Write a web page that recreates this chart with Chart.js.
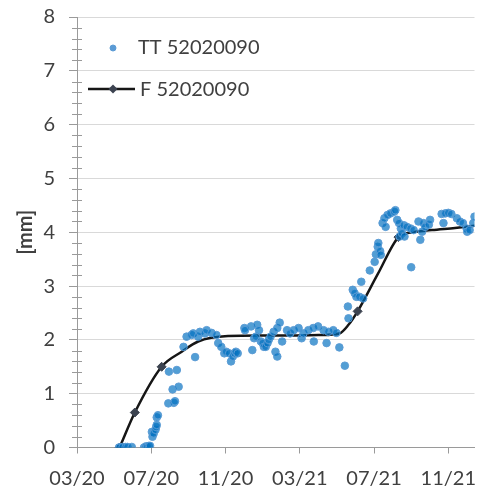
<!DOCTYPE html>
<html>
<head>
<meta charset="utf-8">
<script src="https://cdn.jsdelivr.net/npm/chart.js@4.4.0/dist/chart.umd.min.js"></script>
<style>
  html, body { margin: 0; padding: 0; background: #fff; overflow: hidden; }
  #wrap { width: 480px; height: 491px; position: relative; }
</style>
</head>
<body>
<div id="wrap"><canvas id="chart"></canvas></div>
<script>
// x values are days counted from 03/20 (1 March 2020)
const tickDays = [0, 122, 244, 366, 488, 610];
const tickLabels = ['03/20', '07/20', '11/20', '03/21', '07/21', '11/21'];

const ttDays = [
    69, 70, 75, 80, 83, 90, 110, 113, 115, 118,
    120, 123, 124, 126, 129, 130, 131, 131, 133, 150,
    159, 161, 157, 167, 151, 164, 175, 180, 188, 191,
    194, 199, 202, 210, 213, 221, 229, 232, 237, 242,
    245, 250, 253, 256, 259, 261, 264, 275, 276, 286,
    288, 291, 294, 296, 299, 302, 305, 307, 310, 313,
    315, 318, 323, 326, 329, 329, 333, 337, 345, 350,
    356, 364, 369, 372, 380, 388, 389, 396, 405, 410,
    413, 421, 426, 431, 440, 445, 446, 453, 456, 459,
    464, 470, 467, 481, 489, 491, 494, 495, 498, 499,
    502, 505, 507, 510, 515, 521, 523, 526, 529, 530,
    532, 534, 537, 538, 542, 548, 549, 553, 561, 564,
    567, 569, 572, 578, 580, 599, 602, 605, 610, 615,
    624, 629, 634, 640, 641, 645, 651, 653
];
const ttValues = [
    0, 0, 0.01, 0.01, 0.01, 0.01, 0, 0.02, 0.01, 0.03,
    0.03, 0.29, 0.2, 0.26, 0.33, 0.38, 0.42, 0.56, 0.6, 0.82,
    0.83, 0.86, 1.08, 1.13, 1.41, 1.44, 1.87, 2.06, 2.09, 2.12,
    1.68, 2.06, 2.15, 2.12, 2.18, 2.13, 2.09, 1.94, 1.87, 1.75,
    1.78, 1.75, 1.6, 1.69, 1.75, 1.78, 1.75, 2.22, 2.18, 2.25,
    1.81, 2.03, 2.06, 2.28, 2.18, 1.97, 1.94, 1.87, 1.87, 1.94,
    2.0, 2.06, 2.15, 1.78, 1.69, 2.22, 2.32, 1.97, 2.18, 2.12,
    2.18, 2.22, 2.03, 2.12, 2.18, 2.22, 1.97, 2.25, 2.18, 1.94,
    2.15, 2.18, 2.13, 1.86, 1.52, 2.62, 2.4, 2.93, 2.87, 2.8,
    2.8, 2.77, 3.08, 3.29, 3.45, 3.59, 3.73, 3.8, 3.65, 3.58,
    4.17, 4.26, 4.1, 4.32, 4.35, 4.38, 4.41, 4.23, 4.17, 3.92,
    4.07, 3.98, 4.13, 3.92, 4.1, 4.07, 3.35, 4.04, 4.2, 3.86,
    4.01, 4.17, 4.1, 4.14, 4.23, 4.34, 4.17, 4.35, 4.36, 4.34,
    4.26, 4.2, 4.17, 4.07, 4.01, 4.04, 4.17, 4.29
];

const fDays = [70, 95, 139, 172, 199, 248, 300, 350, 400, 431, 446, 461, 494, 528, 545, 583, 621, 653];
const fValues = [0, 0.65, 1.5, 1.78, 1.97, 2.07, 2.08, 2.08, 2.09, 2.12, 2.28, 2.53, 3.22, 3.91, 3.99, 4.04, 4.08, 4.12];
// markers that show in the picture (the rest sit under the scatter)
const fMarkerRadius = [4.5, 4.5, 4.5, 0, 0, 0, 0, 0, 0, 0, 0, 4.5, 0, 4.5, 0, 0, 0, 0];

const FONT = 'Lato';
const TEXT = '#404040';
const AXIS = '#9a9a9a';

const ttData = ttDays.map((d, i) => ({ x: d, y: ttValues[i] }));
const fData = fDays.map((d, i) => ({ x: d, y: fValues[i] }));

// little crossing ticks every 0.2 on the y axis
const minorTicks = {
    id: 'minorTicks',
    afterDraw(chart) {
        const y = chart.scales.y;
        const left = chart.chartArea.left;
        const ctx = chart.ctx;
        ctx.save();
        ctx.strokeStyle = AXIS;
        ctx.lineWidth = 1;
        for (let v = y.min; v <= y.max + 1e-6; v += 0.2) {
            if (Math.abs(v - Math.round(v)) < 1e-6) continue;
            const py = Math.round(y.getPixelForValue(v)) + 0.5;
            ctx.beginPath();
            ctx.moveTo(left - 5, py);
            ctx.lineTo(left + 5, py);
            ctx.stroke();
        }
        ctx.restore();
    }
};

// legend drawn inside the plot, top-left
const insideLegend = {
    id: 'insideLegend',
    afterDraw(chart) {
        const ctx = chart.ctx;
        const a = chart.chartArea;
        const tt = chart.data.datasets[0];
        const f = chart.data.datasets[1];
        ctx.save();
        ctx.font = '20px ' + FONT;
        ctx.textBaseline = 'middle';

        const cx = a.left + 36;
        const y1 = a.top + 31;
        ctx.beginPath();
        ctx.arc(cx, y1, 3, 0, Math.PI * 2);
        ctx.fillStyle = '#5b9bd5';
        ctx.fill();
        ctx.strokeStyle = tt.borderColor;
        ctx.lineWidth = 1;
        ctx.stroke();
        ctx.fillStyle = TEXT;
        ctx.fillText(tt.label, a.left + 61, y1);

        const y2 = a.top + 72;
        ctx.beginPath();
        ctx.moveTo(a.left + 11, y2);
        ctx.lineTo(a.left + 58, y2);
        ctx.strokeStyle = f.borderColor;
        ctx.lineWidth = f.borderWidth;
        ctx.stroke();
        ctx.beginPath();
        ctx.moveTo(cx, y2 - 4.5);
        ctx.lineTo(cx + 4.5, y2);
        ctx.lineTo(cx, y2 + 4.5);
        ctx.lineTo(cx - 4.5, y2);
        ctx.closePath();
        ctx.fillStyle = f.pointBackgroundColor;
        ctx.fill();
        ctx.fillStyle = TEXT;
        ctx.fillText(f.label, a.left + 63, y2 + 1);
        ctx.restore();
    }
};

const ctx = document.getElementById('chart').getContext('2d');
const chart = new Chart(ctx, {
    type: 'scatter',
    data: {
        datasets: [{
            label: 'TT 52020090',
            data: ttData,
            backgroundColor: 'rgba(0, 112, 192, 0.68)',
            borderColor: 'rgba(91, 155, 213, 0.95)',
            borderWidth: 1,
            pointRadius: 3.8,
            pointHoverRadius: 3.8
        }, {
            label: 'F 52020090',
            data: fData,
            showLine: true,
            borderColor: '#161616',
            borderWidth: 2.5,
            cubicInterpolationMode: 'monotone',
            pointStyle: 'rectRot',
            pointRadius: fMarkerRadius,
            pointHoverRadius: fMarkerRadius,
            pointBackgroundColor: '#3c4350',
            pointBorderColor: '#3c4350',
            pointBorderWidth: 1
        }]
    },
    options: {
        responsive: true,
        maintainAspectRatio: false,
        animation: false,
        devicePixelRatio: 1,
        layout: { padding: { top: 17, right: 0, left: 0, bottom: 0 } },
        plugins: {
            legend: { display: false },
            tooltip: { enabled: false }
        },
        scales: {
            x: {
                type: 'linear',
                min: 0,
                max: 653,
                afterBuildTicks: (scale) => {
                    scale.ticks = tickDays.map(v => ({ value: v }));
                },
                afterFit: (scale) => {
                    scale.height = 43.5;
                    scale.paddingLeft = 0;
                    scale.paddingRight = 0;
                },
                ticks: {
                    autoSkip: false,
                    maxRotation: 0,
                    padding: 13,
                    color: TEXT,
                    font: { family: FONT, size: 20 },
                    callback: (v) => tickLabels[tickDays.indexOf(v)]
                },
                grid: {
                    drawOnChartArea: false,
                    drawTicks: true,
                    tickLength: 6,
                    tickColor: AXIS
                },
                border: { color: AXIS }
            },
            y: {
                min: 0,
                max: 8,
                afterFit: (scale) => {
                    scale.width = 77;
                    scale.paddingTop = 0;
                    scale.paddingBottom = 0;
                },
                ticks: {
                    stepSize: 1,
                    padding: 14,
                    color: TEXT,
                    font: { family: FONT, size: 20 }
                },
                grid: {
                    color: '#d9d9d9',
                    tickColor: AXIS,
                    tickLength: 8
                },
                border: { color: AXIS },
                title: {
                    display: true,
                    text: '[mm]',
                    color: TEXT,
                    font: { family: FONT, size: 20, weight: 'bold' },
                    padding: { top: 14, bottom: 0 }
                }
            }
        }
    },
    plugins: [minorTicks, insideLegend]
});
</script>
</body>
</html>
